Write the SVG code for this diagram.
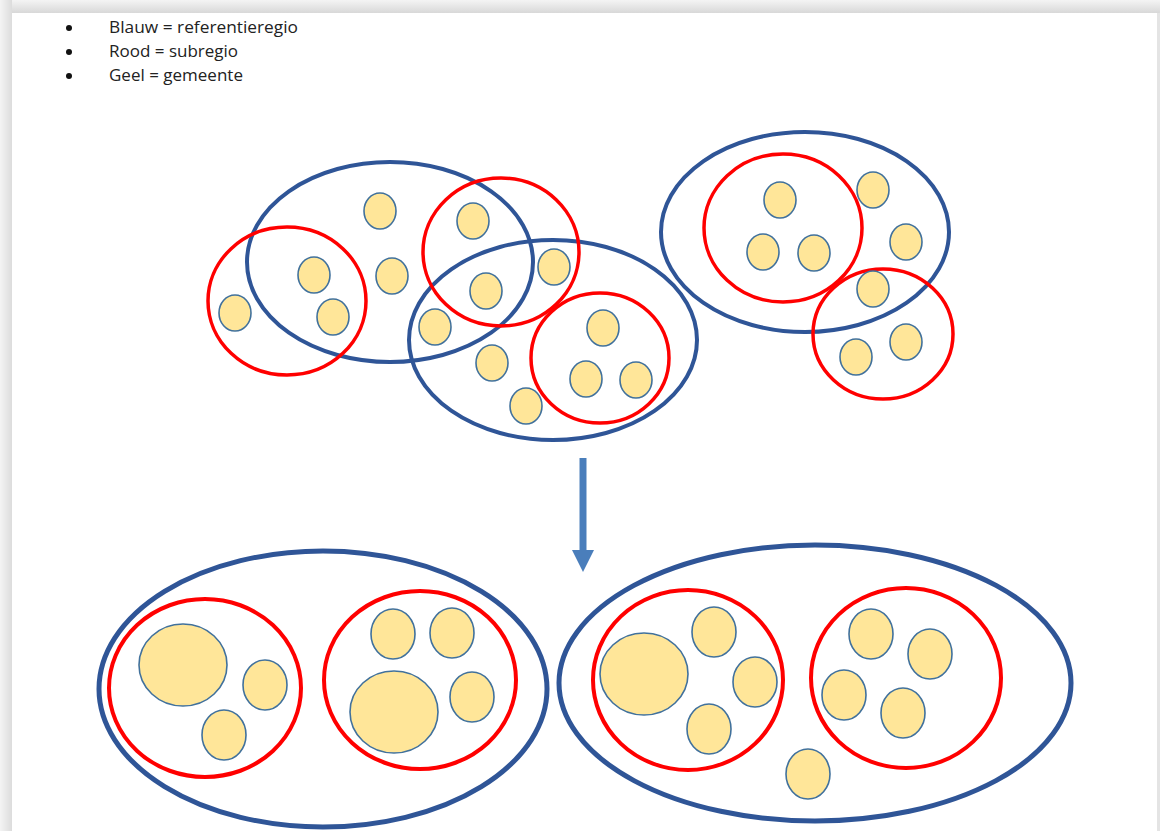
<svg xmlns="http://www.w3.org/2000/svg" width="1160" height="831" viewBox="0 0 1160 831">
<defs>
<linearGradient id="shT" x1="0" y1="0" x2="0" y2="1"><stop offset="0" stop-color="#f4f4f4"/><stop offset="1" stop-color="#d8d8d8"/></linearGradient>
<linearGradient id="shL" x1="0" y1="0" x2="1" y2="0"><stop offset="0" stop-color="#f4f4f4"/><stop offset="1" stop-color="#dcdcdc"/></linearGradient>
<marker id="ah" markerWidth="22" markerHeight="22" refX="0" refY="11" orient="auto" markerUnits="userSpaceOnUse"><path d="M0,0 L22,11 L0,22 Z" fill="#4A7EBB"/></marker>
</defs>
<style>
.blue{fill:none;stroke:#2F5597;stroke-width:4}
.blueL{fill:none;stroke:#2F5597;stroke-width:5}
.red{fill:none;stroke:#FF0000;stroke-width:3.5}
.red4{fill:none;stroke:#FF0000;stroke-width:4}
.yel{fill:#FFE699;stroke:#41719C;stroke-width:1.6}
.lbl{font-family:"Open Sans","Liberation Sans",sans-serif;font-size:17px;fill:#222}
</style>
<rect x="0" y="0" width="1160" height="831" fill="#f2f2f2"/>
<rect x="0" y="0" width="1160" height="13" fill="url(#shT)"/>
<rect x="0" y="0" width="12" height="831" fill="url(#shL)"/>
<rect x="12" y="13" width="1145" height="818" fill="#ffffff"/>
<rect x="1157" y="13" width="3" height="818" fill="#e4e4e4"/>

<g id="legend">
<circle cx="69" cy="28" r="3" fill="#111"/>
<circle cx="69" cy="52" r="3" fill="#111"/>
<circle cx="69" cy="76" r="3" fill="#111"/>
<text class="lbl" x="109" y="33" textLength="189" lengthAdjust="spacingAndGlyphs">Blauw = referentieregio</text>
<text class="lbl" x="109" y="57">Rood = subregio</text>
<text class="lbl" x="109" y="81">Geel = gemeente</text>
</g>

<g id="top-regions">
<ellipse class="blue" cx="390" cy="262" rx="143" ry="100"/>
<ellipse class="blue" cx="553" cy="340" rx="144" ry="100"/>
<ellipse class="blue" cx="805" cy="232" rx="144" ry="100"/>
<ellipse class="red" cx="287" cy="301" rx="79" ry="74"/>
<ellipse class="red" cx="501" cy="252" rx="78" ry="74"/>
<ellipse class="red" cx="600" cy="358" rx="69" ry="65"/>
<ellipse class="red" cx="783" cy="228" rx="79" ry="74"/>
<ellipse class="red" cx="883" cy="334" rx="70" ry="65"/>
</g>
<g id="top-municipalities">
<ellipse class="yel" cx="380" cy="211" rx="16" ry="18"/>
<ellipse class="yel" cx="314" cy="275" rx="16" ry="18"/>
<ellipse class="yel" cx="235" cy="313" rx="16" ry="18"/>
<ellipse class="yel" cx="333" cy="317" rx="16" ry="18"/>
<ellipse class="yel" cx="392" cy="276" rx="16" ry="18"/>
<ellipse class="yel" cx="473" cy="221" rx="16" ry="18"/>
<ellipse class="yel" cx="486" cy="291" rx="16" ry="18"/>
<ellipse class="yel" cx="554" cy="267" rx="16" ry="18"/>
<ellipse class="yel" cx="435" cy="327" rx="16" ry="18"/>
<ellipse class="yel" cx="492" cy="363" rx="16" ry="18"/>
<ellipse class="yel" cx="526" cy="406" rx="16" ry="18"/>
<ellipse class="yel" cx="603" cy="328" rx="16" ry="18"/>
<ellipse class="yel" cx="586" cy="379" rx="16" ry="18"/>
<ellipse class="yel" cx="636" cy="380" rx="16" ry="18"/>
<ellipse class="yel" cx="780" cy="200" rx="16" ry="18"/>
<ellipse class="yel" cx="763" cy="252" rx="16" ry="18"/>
<ellipse class="yel" cx="814" cy="253" rx="16" ry="18"/>
<ellipse class="yel" cx="873" cy="190" rx="16" ry="18"/>
<ellipse class="yel" cx="906" cy="242" rx="16" ry="18"/>
<ellipse class="yel" cx="873" cy="289" rx="16" ry="18"/>
<ellipse class="yel" cx="856" cy="357" rx="16" ry="18"/>
<ellipse class="yel" cx="906" cy="342" rx="16" ry="18"/>
</g>

<g id="connectors">
<line x1="583" y1="458" x2="583" y2="550" stroke="#4A7EBB" stroke-width="7" marker-end="url(#ah)"/>
</g>

<g id="bottom-left">
<ellipse class="blueL" cx="323" cy="689" rx="224" ry="138"/>
<ellipse class="red4" cx="205" cy="688" rx="96" ry="89"/>
<ellipse class="red4" cx="420" cy="680" rx="96" ry="89"/>
<ellipse class="yel" cx="183" cy="665" rx="44" ry="41"/>
<ellipse class="yel" cx="265" cy="685" rx="22" ry="25"/>
<ellipse class="yel" cx="224" cy="735" rx="22" ry="25"/>
<ellipse class="yel" cx="393" cy="634" rx="22" ry="25"/>
<ellipse class="yel" cx="452" cy="633" rx="22" ry="25"/>
<ellipse class="yel" cx="394" cy="712" rx="44" ry="41"/>
<ellipse class="yel" cx="472" cy="697" rx="22" ry="25"/>
</g>

<g id="bottom-right">
<ellipse class="blueL" cx="815" cy="683" rx="256" ry="138"/>
<ellipse class="red4" cx="688" cy="680" rx="95" ry="90"/>
<ellipse class="red4" cx="906" cy="678" rx="95" ry="90"/>
<ellipse class="yel" cx="644" cy="674" rx="44" ry="41"/>
<ellipse class="yel" cx="714" cy="632" rx="22" ry="25"/>
<ellipse class="yel" cx="755" cy="682" rx="22" ry="25"/>
<ellipse class="yel" cx="709" cy="729" rx="22" ry="25"/>
<ellipse class="yel" cx="871" cy="634" rx="22" ry="25"/>
<ellipse class="yel" cx="930" cy="654" rx="22" ry="25"/>
<ellipse class="yel" cx="844" cy="695" rx="22" ry="25"/>
<ellipse class="yel" cx="903" cy="713" rx="22" ry="25"/>
<ellipse class="yel" cx="808" cy="774" rx="22" ry="25"/>
</g>
</svg>
